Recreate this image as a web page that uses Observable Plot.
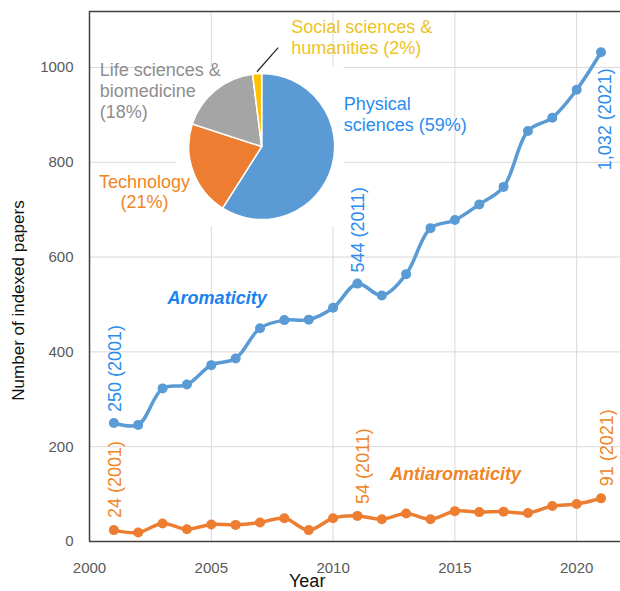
<!DOCTYPE html>
<html>
<head>
<meta charset="utf-8">
<script src="https://cdn.jsdelivr.net/npm/d3@7"></script>
<script src="https://cdn.jsdelivr.net/npm/@observablehq/plot@0.6"></script>
<style>
  html, body { margin: 0; padding: 0; background: #ffffff; }
  #chart { width: 620px; height: 591px; overflow: hidden; }
</style>
</head>
<body>
<div id="chart"></div>
<script>
// ---------- data ----------
const years = [2001, 2002, 2003, 2004, 2005, 2006, 2007, 2008, 2009, 2010, 2011,
               2012, 2013, 2014, 2015, 2016, 2017, 2018, 2019, 2020, 2021];
const aromaticity = [250, 246, 323, 331, 372, 386, 450, 467, 468, 493, 544,
                     519, 564, 661, 678, 711, 748, 866, 894, 953, 1032];
const antiaromaticity = [24, 19, 38, 26, 36, 35, 40, 49, 24, 49, 54,
                         47, 59, 47, 64, 62, 63, 60, 75, 79, 91];

const xTicks = [2000, 2005, 2010, 2015, 2020];
const yTicks = [0, 200, 400, 600, 800, 1000];

const aromLabelYears = [2001, 2011, 2021];
const aromLabelTexts = ["250 (2001)", "544 (2011)", "1,032 (2021)"];
const antiLabelYears = [2001, 2011, 2021];
const antiLabelTexts = ["24 (2001)", "54 (2011)", "91 (2021)"];

const pieCategories = ["Physical sciences", "Technology", "Life sciences & biomedicine", "Social sciences & humanities"];
const pieShares = [59, 21, 18, 2];
const pieColors = ["#5B9BD5", "#ED7D31", "#A5A5A5", "#FFC000"];
const pieLabelTexts = ["Physical\nsciences (59%)", "Technology\n(21%)", "Life sciences &\nbiomedicine\n(18%)", "Social sciences &\nhumanities (2%)"];
const pieLabelColors = ["#2A8CEE", "#F08526", "#8E8E8E", "#EEC31E"];
// label anchor positions (data space) and text alignment
const pieLabelX = [2010.44, 2002.26, 2000.42, 2008.28];
const pieLabelY = [866, 703, 894, 1029];
const pieLabelAlign = ["start", "middle", "start", "start"];
// inset pie centre in data space
const pieCenter = {x: 2007.09, y: 832};

const seriesNames = ["Aromaticity", "Antiaromaticity"];
const seriesNameX = [2005.24, 2015.03];
const seriesNameY = [501, 129];

// ---------- tables ----------
const aromData = years.map((y, i) => ({year: y, value: aromaticity[i]}));
const antiData = years.map((y, i) => ({year: y, value: antiaromaticity[i]}));
const aromLabels = aromLabelYears.map((y, i) => ({year: y, value: aromaticity[years.indexOf(y)], text: aromLabelTexts[i]}));
const antiLabels = antiLabelYears.map((y, i) => ({year: y, value: antiaromaticity[years.indexOf(y)], text: antiLabelTexts[i]}));
const pieLabels = pieCategories.map((c, i) => ({name: c, text: pieLabelTexts[i], x: pieLabelX[i], y: pieLabelY[i], color: pieLabelColors[i], align: pieLabelAlign[i]}));
const seriesLabels = seriesNames.map((n, i) => ({name: n, x: seriesNameX[i], y: seriesNameY[i]}));

const BLUE = "#5B9BD5", ORANGE = "#ED7D31";
const BLUE_TXT = "#2A8CEE", ORANGE_TXT = "#F08526";
const FONT = "'Liberation Sans', Arial, Helvetica, sans-serif";

const plot = Plot.plot({
  width: 620,
  height: 591,
  marginLeft: 89,
  marginRight: 0,
  marginTop: 11,
  marginBottom: 50,
  style: {fontFamily: FONT, fontSize: "15px", color: "#595959", background: "#ffffff"},
  x: {domain: [2000, 2021.8], ticks: xTicks, tickFormat: d => String(d), tickSize: 0, tickPadding: 21, label: null},
  y: {domain: [0, 1118], ticks: yTicks, tickFormat: d => String(d), tickSize: 0, tickPadding: 16, label: null},
  marks: [
    Plot.ruleX(xTicks.slice(1), {stroke: "#D9D9D9", strokeWidth: 1}),
    Plot.ruleY(yTicks.slice(1), {stroke: "#D9D9D9", strokeWidth: 1}),
    Plot.ruleX([2000], {stroke: "#404040", strokeWidth: 1.5}),
    Plot.ruleY([0, 1118], {stroke: "#404040", strokeWidth: 1.5}),

    Plot.line(aromData, {x: "year", y: "value", stroke: BLUE, strokeWidth: 3.5, curve: "catmull-rom"}),
    Plot.dot(aromData, {x: "year", y: "value", r: 5, fill: BLUE, stroke: "none"}),
    Plot.line(antiData, {x: "year", y: "value", stroke: ORANGE, strokeWidth: 3.5, curve: "catmull-rom"}),
    Plot.dot(antiData, {x: "year", y: "value", r: 5, fill: ORANGE, stroke: "none"}),

    // rotated value labels
    Plot.text(aromLabels.filter(d => d.year !== 2021), {x: "year", y: "value", text: "text", rotate: -90, textAnchor: "start", dy: -11, dx: 1, fill: BLUE_TXT, fontSize: 18}),
    Plot.text(aromLabels.filter(d => d.year === 2021), {x: "year", y: "value", text: "text", rotate: -90, textAnchor: "end", dy: 16, dx: 4, fill: BLUE_TXT, fontSize: 18}),
    Plot.text(antiLabels.filter(d => d.year === 2001), {x: "year", y: "value", text: "text", rotate: -90, textAnchor: "start", dy: -12, dx: 1, fill: ORANGE_TXT, fontSize: 18}),
    Plot.text(antiLabels.filter(d => d.year !== 2001), {x: "year", y: "value", text: "text", rotate: -90, textAnchor: "start", dy: -12, dx: 6, fill: ORANGE_TXT, fontSize: 18}),

    // series names
    Plot.text(seriesLabels, {x: "x", y: "y", text: "name", fill: (d, i) => i === 0 ? "#1A82EE" : "#F08526", fontSize: 18, fontWeight: "bold", fontStyle: "italic", lineAnchor: "bottom", textAnchor: "middle"}),

    // pie labels
    Plot.text(pieLabels.filter(d => d.align === "start"), {x: "x", y: "y", text: "text", fill: "color", fontSize: 18, lineHeight: 1.17, lineAnchor: "bottom", textAnchor: "start"}),
    Plot.text(pieLabels.filter(d => d.align === "middle"), {x: "x", y: "y", text: "text", fill: "color", fontSize: 18, lineHeight: 1.13, lineAnchor: "bottom", textAnchor: "middle"}),

    // axis titles
    Plot.text(["Number of indexed papers"], {frameAnchor: "left", text: d => d, rotate: -90, textAnchor: "middle", dx: -71, dy: 24, fill: "#111111", fontSize: 17}),
    Plot.text(["Year"], {frameAnchor: "bottom", text: d => d, textAnchor: "start", lineAnchor: "bottom", dx: -66, dy: 45, fill: "#111111", fontSize: 18})
  ]
});

document.getElementById("chart").appendChild(plot);

// ---------- inset pie (placed with the plot's own scales) ----------
const sx = plot.scale("x"), sy = plot.scale("y");
const cx = sx.apply(pieCenter.x), cy = sy.apply(pieCenter.y);
const R = 73;
const svg = d3.select(plot.tagName.toLowerCase() === "svg" ? plot : plot.querySelector("svg"));
const lineNode = svg.node().querySelector('g[aria-label="line"]');
const pieG = svg.insert("g", () => lineNode).attr("aria-label", "pie");
pieG.append("rect")
  .attr("x", cx - 86).attr("y", cy - 80)
  .attr("width", 168).attr("height", 160)
  .attr("fill", "#ffffff");
const arcs = d3.pie().sort(null).value(d => d)(pieShares);
const arcGen = d3.arc().innerRadius(0).outerRadius(R);
pieG.selectAll("path.slice").data(arcs).join("path")
  .attr("class", "slice")
  .attr("transform", `translate(${cx},${cy})`)
  .attr("d", arcGen)
  .attr("fill", (d, i) => pieColors[i])
  .attr("stroke", "#ffffff")
  .attr("stroke-width", 1.5)
  .attr("stroke-linejoin", "round");
// leader line for the smallest slice
const small = arcs[3];
const mid = (small.startAngle + small.endAngle) / 2;
const sx0 = cx + Math.sin(mid) * (R + 2), sy0 = cy - Math.cos(mid) * (R + 2);
pieG.append("line")
  .attr("x1", sx0).attr("y1", sy0)
  .attr("x2", cx + 16.5).attr("y2", cy - 99)
  .attr("stroke", "#222222").attr("stroke-width", 1.2);
</script>
</body>
</html>
